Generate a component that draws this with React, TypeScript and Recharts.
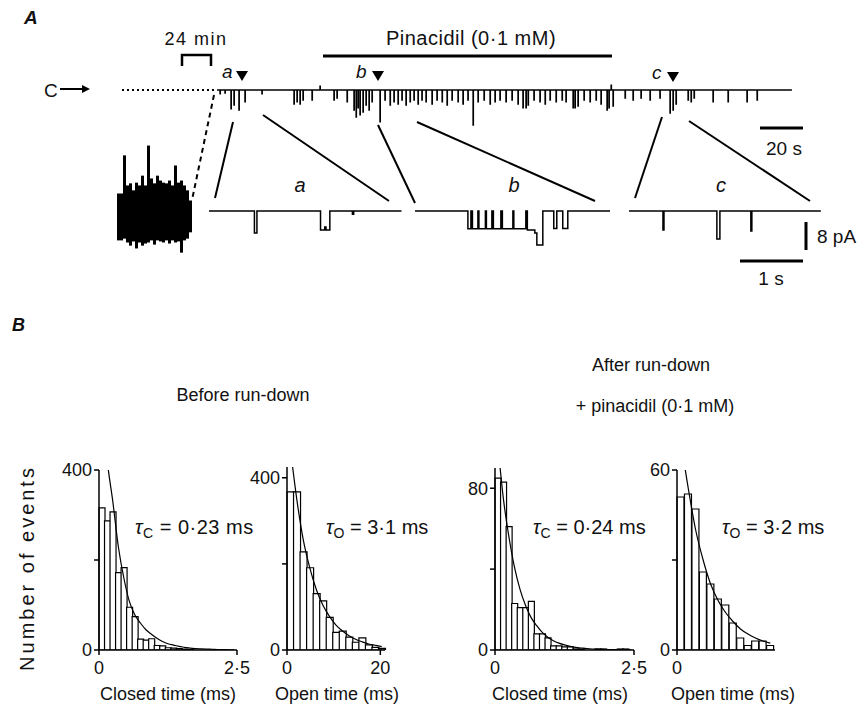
import { ComposedChart, LineChart, BarChart, Bar, Line, XAxis, YAxis } from "recharts";

const FONT = '"Liberation Sans", Arial, Helvetica, sans-serif';

// ---------- B: dwell-time histograms (counts per bin) ----------
const closedBefore = [316, 287, 307, 172, 183, 95, 74, 24, 22, 25, 10, 9, 5, 4, 3, 2, 1, 0, 0, 0, 0, 0, 0, 0, 0];
const closedBeforeFit = [560, 420, 330, 230, 160, 108, 78, 60, 45, 35, 26, 19, 14, 11, 8, 6, 4, 3, 2.5, 2, 1.5, 1, 1, 0.5, 0.5];
const openBefore = [367, 367, 228, 191, 131, 114, 76, 41, 44, 30, 18, 28, 12, 6, 4];
const openBeforeFit = [470, 350, 255, 190, 140, 104, 78, 58, 44, 33, 25, 19, 14, 11, 8];
const closedAfter = [85, 83, 61, 23, 21, 21, 24, 8, 8, 6, 2, 2, 1.5, 1.5, 0.5, 0.5, 0, 0, 0.5, 0.5, 0, 0, 0.5, 0.5, 0];
const closedAfterFit = [102, 75, 56, 41, 30, 22, 16, 12, 8.7, 6.3, 4.6, 3.4, 2.5, 1.8, 1.3, 1, 0.7, 0.5, 0.4, 0.3, 0.2, 0.2, 0.1, 0.1, 0.1];
const openAfter = [51, 52, 47, 26, 22, 17, 15, 9, 4, 1.5, 3, 3, 1.5];
const openAfterFit = [70, 54, 40, 30, 22, 16.5, 12.5, 9.5, 7, 5.3, 4, 3, 2.3];

const CLOSED_BIN = 0.1; // ms
const OPEN_BEFORE_BIN = 1.4;
const OPEN_AFTER_BIN = 1.6;

const rows = (counts: number[], fit: number[], bin: number) =>
  counts.map((n, i) => ({ t: (i + 0.5) * bin, n, fit: fit[i] }));

// ---------- A: single-channel record ----------
// main record: event time (s) and amplitude (pA, downward = opening)
const mainT = [1.4, 3.7, 6.5, 7.9, 10.2, 13.0, 20.9, 35.8, 37.2, 38.6, 40.0, 44.2, 47.9, 54.4, 55.8, 60.5,
  63.7, 64.7, 65.6, 66.5, 67.9, 69.3, 70.7, 72.1, 75.8, 78.1, 80.5, 82.3, 84.2, 86.0, 87.9, 89.8, 91.6, 93.5,
  95.3, 97.2, 100.0, 102.3, 104.7, 107.0, 109.3, 112.1, 114.4, 116.7, 119.1, 121.4, 124.2, 127.0, 129.3,
  131.6, 134.4, 137.2, 140.0, 142.3, 143.7, 144.7, 147.4, 150.2, 152.6, 154.9, 157.7, 160.5, 162.3, 165.6,
  166.5, 167.9, 170.7, 173.5, 176.3, 178.6, 181.4, 182.3, 183.3, 184.2, 189.8, 193.5, 197.2, 201.4, 206.0,
  210.7, 212.1, 213.5, 219.1, 220.5, 221.9, 230.7, 237.7, 246.5, 251.2];
const mainAmp = [1.1, 0.9, 5.4, 4.3, 5.7, 3.4, 1.1, 4.0, 3.4, 4.0, 2.9, 2.9, -1.1, 2.9, 2.3, 3.4,
  5.7, 7.7, 5.1, 7.1, 6.3, 4.3, 5.7, 3.4, 9.1, 2.9, 4.3, 3.4, 4.0, 2.9, 4.3, 3.4, 2.9, 4.0, 2.9, 3.4,
  4.0, 2.9, 3.4, 4.3, 2.9, 3.4, 4.0, 2.9, 10.0, 3.4, 2.9, 4.0, 3.4, 2.9, 3.4, 2.9, 4.0,
  5.1, 5.1, 4.3, 2.9, 3.4, 4.0, 2.9, 3.4, 2.9, 3.4, 5.1, 5.1, 4.6, 2.9, 3.4, 2.9, 4.0,
  5.7, 5.1, -1.4, 4.6, 2.3, 2.9, 2.3, 2.9, 2.3, 6.6, 5.7, 4.0, 2.9, 3.4, 2.3, 3.4, 3.4, 3.4, 2.9];
const MAIN_END = 267.4;

// expanded segments: breakpoints (s) and current level (pA)
const insetAT = [0, 0.722, 0.762, 1.773, 1.84, 1.86, 1.921, 2.28, 2.3, 3.06];
const insetAV = [0, -6.3, 0, -5.4, -4.6, -5.4, 0, -0.9, 0, 0];
const insetBT = [0, 0.841, 0.889, 0.913, 1.0, 1.016, 1.119, 1.135, 1.222, 1.246, 1.365, 1.389, 1.556, 1.571,
  1.762, 1.786, 1.905, 1.937, 2.032, 2.206, 2.254, 2.349, 2.429, 3.1];
const insetBV = [0, -5.1, 0, -5.1, 0, -5.1, 0, -5.1, 0, -5.1, 0, -5.1, 0, -5.1, 0, -5.4, -6.3, -9.7, 0, -5.0, 0, -5.0, 0, 0];
const insetCT = [0, 0.54, 0.556, 1.397, 1.445, 1.937, 1.953, 3.05];
const insetCV = [0, -5.4, 0, -8.0, 0, -5.7, 0, 0];

// record before run-down: envelope per column (pA)
const noiseHi = [0, 0, 10.9, 2.3, 2.9, 0.9, 3.1, 2.3, 5.1, 2.3, 13.7, 4.3, 2.9, 5.1, 3.7, 3.1, 2.9, 3.7, 2.3, 8.0, 3.1, 3.7, 2.3, 0.9, -2.0];
const noiseLo = [-13.4, -13.4, -12.9, -14.0, -14.9, -13.7, -15.7, -14.0, -14.9, -14.3, -14.0, -13.4, -14.6, -13.4,
  -13.7, -14.0, -13.4, -14.3, -13.4, -14.0, -13.7, -16.9, -13.4, -12.9, -11.1];

const mainData = (() => {
  const d: { t: number; v: number }[] = [{ t: 0, v: 0 }];
  mainT.forEach((t, i) => {
    d.push({ t, v: -mainAmp[i] });
    d.push({ t: t + 0.15, v: 0 });
  });
  d.push({ t: MAIN_END, v: 0 });
  return d;
})();
const steps = (ts: number[], vs: number[]) => ts.map((t, i) => ({ t, v: vs[i] }));
const noiseData = noiseHi.map((h, i) => ({ i, r: [noiseLo[i], h] }));

const fmtNum = (v: number) => String(v).replace(".", "·");

function Hist({ left, top, plotW, plotH, xMax, yMax, xTicks, yTicks, data }: any) {
  const YW = 45;
  const MT = 15;
  return (
    <div style={{ position: "absolute", left: left - YW, top: top - MT }}>
      <ComposedChart width={plotW + YW + 25} height={plotH + MT + 35} data={data}
        margin={{ top: MT, right: 25, bottom: 0, left: 0 }} barCategoryGap={0} barGap={0}>
        <XAxis type="number" dataKey="t" domain={[0, xMax]} ticks={xTicks} tickFormatter={fmtNum}
          height={35} tickSize={5} tickMargin={6} interval={0}
          axisLine={{ stroke: "#000", strokeWidth: 1.5 }} tickLine={{ stroke: "#000", strokeWidth: 1.5 }}
          tick={{ fill: "#111", fontSize: 18, fontFamily: FONT }} />
        <YAxis type="number" domain={[0, yMax]} ticks={yTicks} allowDataOverflow width={YW}
          tickFormatter={(v: number) => (v === yTicks[1] ? "" : String(v))} tickSize={5} tickMargin={2} interval={0}
          axisLine={{ stroke: "#000", strokeWidth: 1.5 }} tickLine={{ stroke: "#000", strokeWidth: 1.5 }}
          tick={{ fill: "#111", fontSize: 18, fontFamily: FONT }} />
        <Bar dataKey="n" fill="#fff" stroke="#000" strokeWidth={1.2} isAnimationActive={false} />
        <Line dataKey="fit" type="monotone" stroke="#000" strokeWidth={1.2} dot={false} isAnimationActive={false} />
      </ComposedChart>
    </div>
  );
}

function Trace({ left, top, w, h, data, xMax, yMin, yMax, sw }: any) {
  return (
    <div style={{ position: "absolute", left, top }}>
      <LineChart width={w} height={h} data={data} margin={{ top: 0, right: 0, bottom: 0, left: 0 }}>
        <XAxis hide type="number" dataKey="t" domain={[0, xMax]} />
        <YAxis hide type="number" domain={[yMin, yMax]} />
        <Line dataKey="v" type="stepAfter" stroke="#000" strokeWidth={sw} dot={false} isAnimationActive={false} />
      </LineChart>
    </div>
  );
}

const T = { fontFamily: FONT, fill: "#111" } as const;

export default function App() {
  return (
    <div style={{ position: "absolute", left: 0, top: 0, width: 868, height: 714, background: "#fff", overflow: "hidden" }}>
      {/* A: records (3.5 px per pA, 2.15 px per s main, 63 px per s insets) */}
      <Trace left={217} top={76} w={602} h={56} data={mainData} xMax={280} yMin={-12} yMax={4} sw={1.4} />
      <Trace left={209} top={204} w={195} h={45.5} data={steps(insetAT, insetAV)} xMax={3.1} yMin={-11} yMax={2} sw={1.5} />
      <Trace left={415} top={204} w={195} h={45.5} data={steps(insetBT, insetBV)} xMax={3.1} yMin={-11} yMax={2} sw={1.5} />
      <Trace left={629} top={204} w={195} h={45.5} data={steps(insetCT, insetCV)} xMax={3.1} yMin={-11} yMax={2} sw={1.5} />
      <div style={{ position: "absolute", left: 116.5, top: 140.5 }}>
        <BarChart width={75} height={115.5} data={noiseData} margin={{ top: 0, right: 0, bottom: 0, left: 0 }}
          barCategoryGap={0} barGap={0}>
          <XAxis hide dataKey="i" />
          <YAxis hide type="number" domain={[-18, 15]} />
          <Bar dataKey="r" fill="#000" isAnimationActive={false} />
        </BarChart>
      </div>

      {/* B: histograms */}
      <Hist left={99} top={470} plotW={138} plotH={180} xMax={2.5} yMax={400} xTicks={[0, 2.5]} yTicks={[0, 200, 400]}
        data={rows(closedBefore, closedBeforeFit, CLOSED_BIN)} />
      <Hist left={287} top={467} plotW={98} plotH={183} xMax={21} yMax={425} xTicks={[0, 20]} yTicks={[0, 200, 400]}
        data={rows(openBefore, openBeforeFit, OPEN_BEFORE_BIN)} />
      <Hist left={495} top={468} plotW={139} plotH={182} xMax={2.5} yMax={90} xTicks={[0, 2.5]} yTicks={[0, 40, 80]}
        data={rows(closedAfter, closedAfterFit, CLOSED_BIN)} />
      <Hist left={677} top={470} plotW={98} plotH={180} xMax={21} yMax={60} xTicks={[0]} yTicks={[0, 30, 60]}
        data={rows(openAfter, openAfterFit, OPEN_AFTER_BIN)} />

      <svg width={868} height={714} style={{ position: "absolute", left: 0, top: 0, pointerEvents: "none" }}>
        <g {...T}>
          <text x={24} y={24} fontSize={19} fontWeight="bold" fontStyle="italic">A</text>
          <text x={12} y={331} fontSize={18} fontWeight="bold" fontStyle="italic">B</text>

          {/* 24 min bracket */}
          <text x={196} y={45} fontSize={18} textAnchor="middle" letterSpacing={1.5}>24 min</text>
          <path d="M182 66 V55 H211 V66" fill="none" stroke="#000" strokeWidth={2.5} />

          {/* pinacidil bar */}
          <text x={471} y={45} fontSize={20} textAnchor="middle" letterSpacing={0.5}>Pinacidil (0·1 mM)</text>
          <line x1={323} y1={56} x2={612} y2={56} stroke="#000" strokeWidth={3} />

          {/* closed level */}
          <text x={44} y={97} fontSize={19}>C</text>
          <line x1={60} y1={89} x2={84} y2={89} stroke="#000" strokeWidth={2} />
          <path d="M90 89 L82 85 L82 93 Z" fill="#000" />
          <line x1={122} y1={90} x2={214} y2={90} stroke="#000" strokeWidth={2} strokeDasharray="2 3" />
          <line x1={214} y1={95} x2={192} y2={200} stroke="#000" strokeWidth={2} strokeDasharray="5 4" />

          {/* markers */}
          <text x={222} y={78} fontSize={19} fontStyle="italic">a</text>
          <path d="M236 71 H248 L242 81 Z" fill="#000" />
          <text x={356} y={78} fontSize={19} fontStyle="italic">b</text>
          <path d="M372 71 H384 L378 81 Z" fill="#000" />
          <text x={652} y={79} fontSize={19} fontStyle="italic">c</text>
          <path d="M667 72 H679 L673 82 Z" fill="#000" />

          {/* expansion lines */}
          <g stroke="#000" strokeWidth={2}>
            <line x1={233} y1={122} x2={215} y2={198} />
            <line x1={263} y1={115} x2={389} y2={201} />
            <line x1={378} y1={125} x2={415} y2={203} />
            <line x1={417} y1={122} x2={595} y2={201} />
            <line x1={662} y1={117} x2={635} y2={198} />
            <line x1={689} y1={121} x2={810} y2={201} />
          </g>
          <text x={300} y={192} fontSize={20} fontStyle="italic" textAnchor="middle">a</text>
          <text x={514} y={192} fontSize={20} fontStyle="italic" textAnchor="middle">b</text>
          <text x={721} y={192} fontSize={20} fontStyle="italic" textAnchor="middle">c</text>

          {/* scale bars */}
          <line x1={760} y1={128} x2={803} y2={128} stroke="#000" strokeWidth={3} />
          <text x={784} y={155} fontSize={19} textAnchor="middle">20 s</text>
          <line x1={806} y1={222} x2={806} y2={250} stroke="#000" strokeWidth={3} />
          <text x={817} y={243} fontSize={19}>8 pA</text>
          <line x1={740} y1={261} x2={803} y2={261} stroke="#000" strokeWidth={3} />
          <text x={771} y={285} fontSize={19} textAnchor="middle">1 s</text>

          {/* B headings */}
          <text x={243} y={401} fontSize={18} textAnchor="middle">Before run-down</text>
          <text x={651} y={371} fontSize={18} textAnchor="middle">After run-down</text>
          <text x={655} y={412} fontSize={18} textAnchor="middle">+ pinacidil (0·1 mM)</text>

          {/* fitted time constants */}
          <text x={135} y={534} fontSize={20} letterSpacing={0.5}>
            <tspan fontStyle="italic">τ</tspan><tspan dy={4} fontSize={14}>C</tspan><tspan dy={-4}> = 0·23 ms</tspan>
          </text>
          <text x={326} y={534} fontSize={20}>
            <tspan fontStyle="italic">τ</tspan><tspan dy={4} fontSize={14}>O</tspan><tspan dy={-4}> = 3·1 ms</tspan>
          </text>
          <text x={533} y={534} fontSize={20}>
            <tspan fontStyle="italic">τ</tspan><tspan dy={4} fontSize={14}>C</tspan><tspan dy={-4}> = 0·24 ms</tspan>
          </text>
          <text x={722} y={534} fontSize={20}>
            <tspan fontStyle="italic">τ</tspan><tspan dy={4} fontSize={14}>O</tspan><tspan dy={-4}> = 3·2 ms</tspan>
          </text>

          {/* axis titles */}
          <text x={168} y={700} fontSize={18} textAnchor="middle">Closed time (ms)</text>
          <text x={337} y={700} fontSize={18} textAnchor="middle">Open time (ms)</text>
          <text x={560} y={700} fontSize={18} textAnchor="middle">Closed time (ms)</text>
          <text x={733} y={700} fontSize={18} textAnchor="middle">Open time (ms)</text>
          <text x={0} y={0} fontSize={20} textAnchor="middle" letterSpacing={3}
            transform="translate(34 568) rotate(-90)">Number of events</text>
        </g>
      </svg>
    </div>
  );
}
